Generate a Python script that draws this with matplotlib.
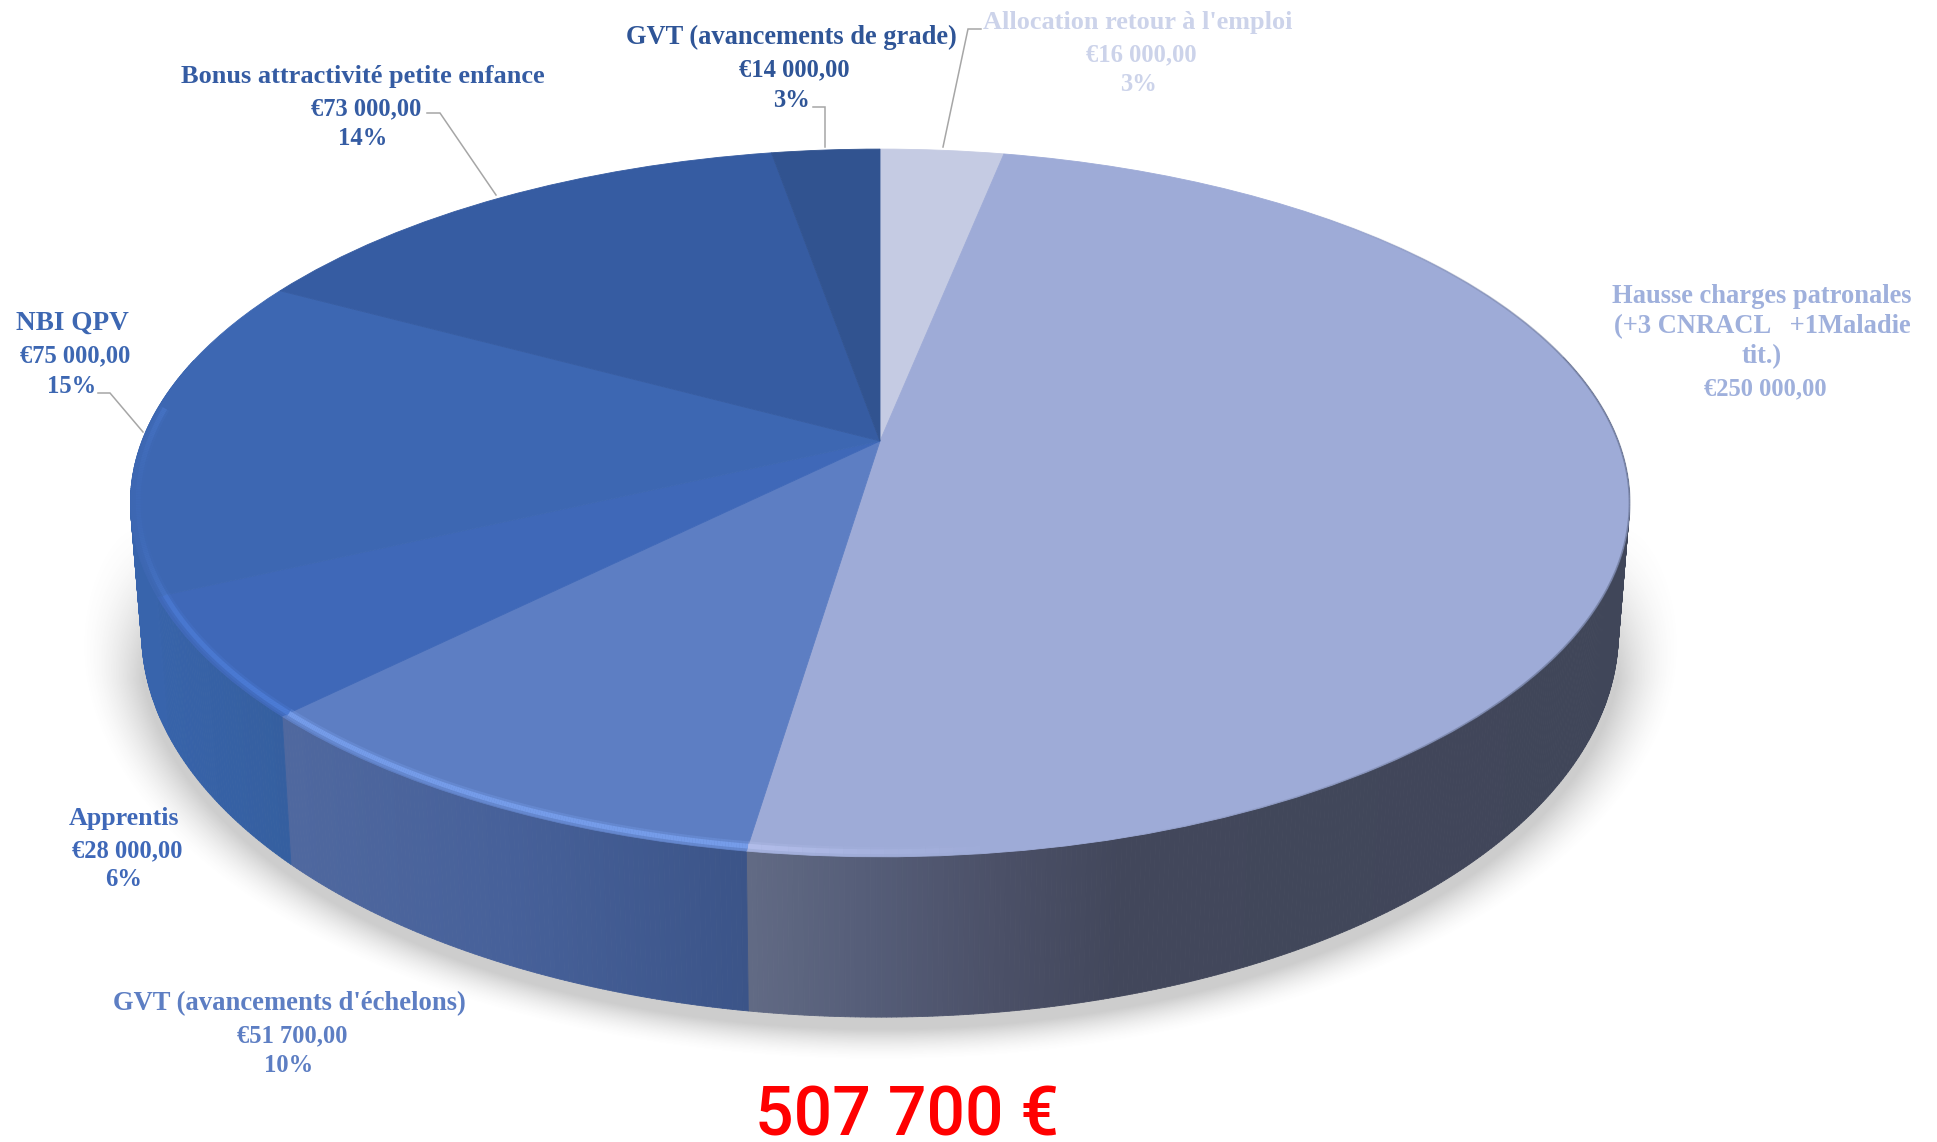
import numpy as np
import matplotlib
matplotlib.use('Agg')
import matplotlib.pyplot as plt
from matplotlib.collections import LineCollection, PolyCollection
from matplotlib.colors import to_rgb
from matplotlib.transforms import Transform

# data, in drawing order (clockwise from 12 o'clock)
names = [["Allocation retour à l'emploi"], ["Hausse charges patronales", "(+3 CNRACL   +1Maladie", "tit.)"],
         ["GVT (avancements d'échelons)"], ["Apprentis"], ["NBI QPV"],
         ["Bonus attractivité petite enfance"], ["GVT (avancements de grade)"]]
values = [16000, 250000, 51700, 28000, 75000, 73000, 14000]
amount_labels = ["€16 000,00", "€250 000,00", "€51 700,00", "€28 000,00", "€75 000,00", "€73 000,00", "€14 000,00"]
pct_labels = ["3%", "", "10%", "6%", "15%", "14%", "3%"]
total_label = "507 700 €"

top_colors = ['#c5cbe3', '#9eabd7', '#5d7ec3', '#3f68b8', '#3d67b2', '#365ca2', '#315390']
text_colors = ['#ccd3ea', '#9fb0dc', '#5d7ec3', '#3f68b8', '#3d67b2', '#355ca3', '#2f5597']
rim_colors = ['#c5cbe3', '#b4bfec', '#78a0ee', '#4f80dc', '#4a78cc', '#365ca2', '#315390']

# label placement: centre x, baselines of each line, size of the name
label_x = [1138, 1762, 289, 124, 72, 363, 791]
label_base = [[29, 61, 91], [303, 333, 363, 395], [1010, 1042, 1072], [825, 857, 886],
              [330, 362, 393], [83, 115, 145], [44, 76, 107]]
name_size = [18.9, 19.1, 19.2, 18.7, 19.6, 19, 19.1]
value_size = 17.7

# side shading per slice: x positions and colours
side_x = {1: [750, 870, 1000, 1120, 1640], 2: [290, 500, 750], 3: [130, 290], 4: [100, 200]}
side_c = {1: ['#616a84', '#555d78', '#4b5067', '#42475b', '#404659'],
          2: ['#4f689f', '#47619a', '#3b5488'],
          3: ['#3864ac', '#355f9f'],
          4: ['#3864ac', '#3864ac']}

# leader lines (pixels): slice index -> xs, ys
leaders = {5: ([427, 440, 496], [113, 113, 195]),
           4: ([98, 110, 143], [393, 393, 432]),
           6: ([813, 825, 825], [107, 107, 147]),
           0: ([981, 968, 943], [29, 29, 147])}

# projection of the unit disc to the page: top face and bottom face
TOP = dict(cx=880, cy=441, a=343, b=738, k=0.175)
BOT = dict(cx=880, cy=565, a=373, b=727, k=0.175)


def project(u, v, p):
    d = 1 + p['k'] * v
    return p['cx'] + p['b'] * u / d, p['cy'] - p['a'] * v / d


class Perspective(Transform):
    input_dims = 2
    output_dims = 2
    is_separable = False
    has_inverse = False

    def __init__(self, p):
        super().__init__()
        self.p = p

    def transform_non_affine(self, xy):
        xy = np.asarray(xy)
        x, y = project(xy[:, 0], xy[:, 1], self.p)
        return np.column_stack([x, y])


fig = plt.figure(figsize=(19.37, 11.42), dpi=100, facecolor='white')
ax = fig.add_axes([0, 0, 1, 1])

wedges, _ = ax.pie(values, startangle=90, counterclock=False, colors=top_colors,
                   wedgeprops=dict(linewidth=0.6))
top_tr = Perspective(TOP) + ax.transData
for w, c in zip(wedges, top_colors):
    w.set_transform(top_tr)
    w.set_edgecolor(c)
    w.set_zorder(3)

ax.set_aspect('auto')
ax.axis('off')

# soft shadow under the disc
gx, gy = np.meshgrid(np.arange(0, 1937, 2), np.arange(0, 1142, 2))
dist = np.sqrt(((gx - 880) / 750) ** 2 + ((gy - 640) / 393) ** 2)
alpha = np.clip((1.068 - dist) / 0.08, 0, 1) ** 1.6 * 0.34
alpha *= np.clip((gy - 520) / 160, 0, 1)
shadow = np.zeros(gx.shape + (4,))
shadow[..., :3] = 0.42
shadow[..., 3] = alpha
ax.imshow(shadow, extent=(0, 1937, 1142, 0), aspect='auto', zorder=1, interpolation='bilinear')
ax.set_xlim(0, 1937)
ax.set_ylim(1142, 0)

# side wall
quads, quad_cols = [], []
for i, w in enumerate(wedges):
    if i not in side_x:
        continue
    th = np.radians(np.linspace(w.theta1, w.theta2, max(int(w.theta2 - w.theta1) * 3, 4)))
    tx, ty = project(np.cos(th), np.sin(th), TOP)
    bx, by = project(np.cos(th), np.sin(th), BOT)
    rgb = np.array([to_rgb(c) for c in side_c[i]])
    for j in range(len(th) - 1):
        if np.sin(th[j]) > 0.25:
            continue
        quads.append([(tx[j], ty[j]), (tx[j + 1], ty[j + 1]), (bx[j + 1], by[j + 1]), (bx[j], by[j])])
        mx = (tx[j] + tx[j + 1]) / 2
        quad_cols.append([np.interp(mx, side_x[i], rgb[:, n]) for n in range(3)])
ax.add_collection(PolyCollection(quads, facecolors=quad_cols, edgecolors=quad_cols, linewidths=0.6, zorder=2))

# light bevel on the front rim
rim_x = [130, 170, 290, 750, 860, 1000]
rim_a = [0, 0.75, 1, 1, 0.35, 0]
for i, w in enumerate(wedges):
    th = np.radians(np.linspace(w.theta1, w.theta2, 200))
    th = th[np.sin(th) < 0.1]
    if len(th) < 2:
        continue
    x, y = project(0.99 * np.cos(th), 0.99 * np.sin(th), TOP)
    pts = np.column_stack([x, y])
    segs = np.stack([pts[:-1], pts[1:]], axis=1)
    a = np.interp(x[:-1], rim_x, rim_a)
    col = np.zeros((len(a), 4))
    col[:, :3] = to_rgb(rim_colors[i])
    for lw, f in [(7, 0.3), (3.5, 0.85)]:
        c = col.copy()
        c[:, 3] = a * f
        ax.add_collection(LineCollection(segs, colors=c, linewidths=lw, zorder=4, capstyle='butt'))

# dark edge on the right, fading out at both ends
deg = np.linspace(-75, 50, 300)
th = np.radians(deg)
x, y = project(np.cos(th), np.sin(th), TOP)
pts = np.column_stack([x, y])
edge = np.zeros((len(deg) - 1, 4))
edge[:, :3] = to_rgb('#5f6a88')
edge[:, 3] = np.interp(deg[:-1], [-75, -40, 10, 50], [0, 0.55, 0.55, 0])
ax.add_collection(LineCollection(np.stack([pts[:-1], pts[1:]], axis=1), colors=edge, linewidths=1.4, zorder=4))

# leader lines
for xs, ys in leaders.values():
    ax.plot(xs, ys, color='#a6a6a6', lw=1.1, zorder=5, solid_joinstyle='miter')

# labels
for i in range(len(values)):
    lines = names[i] + [amount_labels[i]]
    sizes = [name_size[i]] * len(names[i]) + [value_size]
    shift = [0] * len(names[i]) + [3]
    if pct_labels[i]:
        lines.append(pct_labels[i])
        sizes.append(value_size)
        shift.append(0)
    for txt, yb, fs, dx in zip(lines, label_base[i], sizes, shift):
        ax.text(label_x[i] + dx, yb, txt, ha='center', va='baseline', family='Liberation Serif', weight='bold',
                fontsize=fs, color=text_colors[i], zorder=6)

ax.text(907, 1136, total_label, ha='center', va='baseline', color='#ff0000', fontsize=49, weight='medium',
        family='Roboto', zorder=6)

fig.savefig('out.png', dpi=100, facecolor='white')
